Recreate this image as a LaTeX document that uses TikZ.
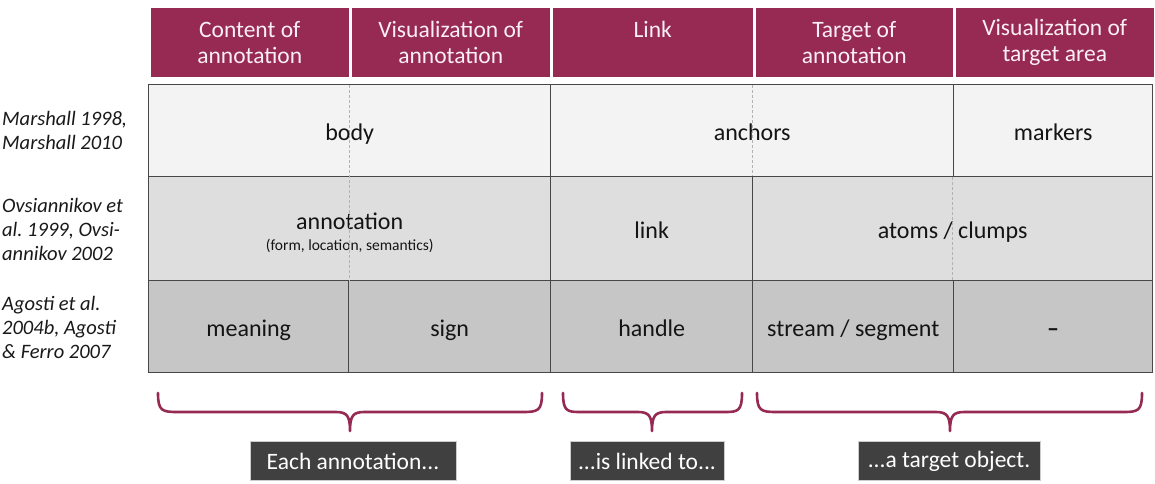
\documentclass[tikz,border=0pt]{standalone}
\usepackage{fontspec}
\setmainfont{Carlito}
\definecolor{maroon}{HTML}{962A53}
\definecolor{hdrtext}{HTML}{FBEFF3}
\definecolor{rowa}{HTML}{F3F3F3}
\definecolor{rowb}{HTML}{DEDEDE}
\definecolor{rowc}{HTML}{C6C6C6}
\definecolor{boxgray}{HTML}{404040}
\frenchspacing
\begin{document}
\begin{tikzpicture}[x=1pt,y=-1pt,
  hdr/.style={fill=maroon, draw=white, line width=2.5pt, anchor=north west, inner sep=0pt,
    minimum height=72pt, text=hdrtext, align=center, font=\fontsize{23.5}{26}\selectfont},
  cell/.style={draw=black!72, line width=1.4pt, anchor=north west, inner sep=0pt,
    align=center, text=black!92, text height=22pt, text depth=2pt,
    font=\fontsize{24}{26}\selectfont},
  src/.style={anchor=west, align=left, inner sep=0pt, text=black!90,
    font=\fontsize{20.5}{24}\selectfont\itshape},
  dashline/.style={draw=black!30, line width=0.7pt, densely dashed},
  brace/.style={draw=maroon, line width=2.6pt, line cap=round, line join=round},
  lbl/.style={fill=boxgray, draw=black!20, line width=0.6pt, text=white, inner sep=0pt,
    minimum height=39pt, font=\fontsize{23.5}{26}\selectfont}]
\useasboundingbox (0,0) rectangle (1155,483);
\fill[white] (0,0) rectangle (1155,483);

% header
\node[hdr, minimum width=201pt] (h1) at (148,5) {Content of\\annotation};
\node[hdr, minimum width=201pt] (h2) at (349,5) {Visualization of\\annotation};
\node[hdr, minimum width=203pt] (h3) at (550,5) {Link\\\phantom{annotation}};
\node[hdr, minimum width=200pt] (h4) at (753,5) {Target of\\annotation};
\node[hdr, minimum width=201pt] (h5) at (953,5) {Visualization of\\target area};

% row 1
\node[cell, fill=rowa, minimum width=402pt, minimum height=92pt] (body) at (148,84) {body};
\node[cell, fill=rowa, minimum width=403pt, minimum height=92pt] (anchors) at (550,84) {anchors};
\node[cell, fill=rowa, minimum width=199pt, minimum height=92pt] (markers) at (953,84) {markers};
% row 2
\node[cell, fill=rowb, minimum width=402pt, minimum height=104pt, text height=, text depth=] (annot) at (148,176)
  {\rule{0pt}{24pt}annotation\\[-5pt]{\fontsize{15.5}{17}\selectfont (form, location, semantics)}};
\node[cell, fill=rowb, minimum width=202pt, minimum height=104pt] (link) at (550,176) {link};
\node[cell, fill=rowb, minimum width=400pt, minimum height=104pt] (atoms) at (752,176) {atoms / clumps};
% row 3
\node[cell, fill=rowc, minimum width=200pt, minimum height=92pt] (meaning) at (148,280) {meaning};
\node[cell, fill=rowc, minimum width=202pt, minimum height=92pt] (sign) at (348,280) {sign};
\node[cell, fill=rowc, minimum width=202pt, minimum height=92pt] (handle) at (550,280) {handle};
\node[cell, fill=rowc, minimum width=201pt, minimum height=92pt] (stream) at (752,280) {stream / segment};
\node[cell, fill=rowc, minimum width=199pt, minimum height=92pt] (none) at (953,280) {\textbf{--}};

% dashed column continuations
\draw[dashline] ([yshift=-1pt]body.north) -- ([yshift=1pt]annot.south);
\draw[dashline] ([yshift=-1pt]anchors.north) -- ([yshift=1pt]anchors.south);
\draw[dashline] ([yshift=-1pt]atoms.north) -- ([yshift=1pt]atoms.south);

% sources
\node[src] (s1) at (2,130) {Marshall 1998,\\Marshall 2010};
\node[src] (s2) at (2,229) {Ovsiannikov et\\al. 1999, Ovsi-\\annikov 2002};
\node[src] (s3) at (2,327) {Agosti et al.\\2004b, Agosti\\\& Ferro 2007};

% labels
\node[lbl, minimum width=206pt] (l1) at (353,461) {Each annotation...};
\node[lbl, minimum width=154pt] (l2) at (647,461) {...is linked to...};
\node[lbl, minimum width=182pt] (l3) at (949,461) {...a target object.};

% braces
\draw[brace] (158,393) .. controls (158,411) and (162,412) .. (178,412)
  -- (336,412) .. controls (347,412) and (350,416) .. (350,431)
  .. controls (350,416) and (353,412) .. (364,412)
  -- (522,412) .. controls (538,412) and (542,411) .. (542,393);
\draw[brace] (563,393) .. controls (563,411) and (567,412) .. (580,412)
  -- (638,412) .. controls (649,412) and (652,416) .. (652,431)
  .. controls (652,416) and (655,412) .. (666,412)
  -- (725,412) .. controls (738,412) and (742,411) .. (742,393);
\draw[brace] (757,393) .. controls (757,411) and (761,412) .. (777,412)
  -- (936,412) .. controls (947,412) and (950,416) .. (950,431)
  .. controls (950,416) and (953,412) .. (964,412)
  -- (1123,412) .. controls (1138,412) and (1142,411) .. (1142,393);
\end{tikzpicture}
\end{document}
